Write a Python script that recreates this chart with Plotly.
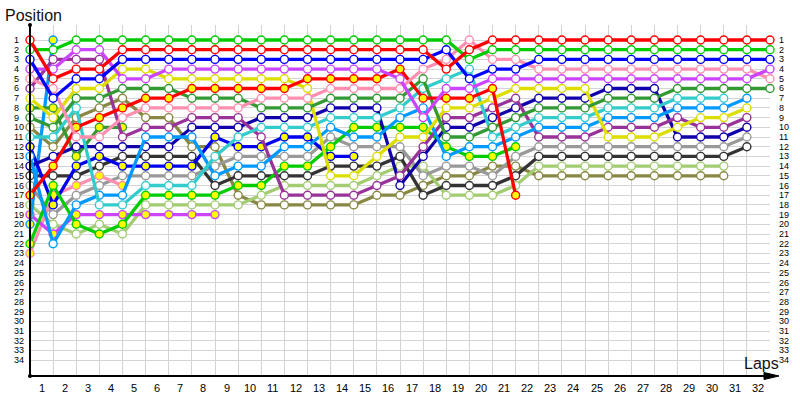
import plotly.graph_objects as go

N = None
laps = list(range(33))
lap_labels = [str(i) for i in range(1, 33)]
pos_labels = [str(i) for i in range(1, 35)]

# positions per lap (lap 0 = grid)
red      = [1,5,4,4,2,2,2,2,2,2,2,2,2,2,2,2,2,2,4,2,1,1,1,1,1,1,1,1,1,1,1,1,1]
green    = [2,2,1,1,1,1,1,1,1,1,1,1,1,1,1,1,1,1,1,3,2,2,2,2,2,2,2,2,2,2,2,2,2]
blue     = [3,7,5,5,3,3,3,3,3,3,3,3,3,3,3,3,3,3,2,5,4,4,3,3,3,3,3,3,3,3,3,3,3]
violet   = [4,4,2,2,5,5,4,4,4,4,4,4,4,4,4,4,5,9,6,6,5,5,5,5,5,5,5,5,5,5,5,5,4]
pink     = [5,6,11,11,9,8,8,8,8,8,7,7,7,6,6,6,6,4,3,1,3,3,4,4,4,4,4,4,4,4,4,4,5]
purple   = [6,3,3,3,11,10,10,9,9,9,11,17,17,17,17,16,15,12,9,9,8,7,11,11,11,10,10,10,9,10,10,9,N]
yellow   = [7,9,6,6,4,4,5,5,5,5,5,5,6,15,15,13,11,11,8,8,7,6,6,6,6,11,11,11,10,9,9,8,N]
dkgreen  = [9,10,7,7,6,6,6,7,7,7,8,8,8,7,7,7,7,5,11,11,10,9,8,8,8,7,7,7,6,6,6,6,6]
olive    = [10,12,9,8,7,9,9,12,12,17,18,18,18,18,18,17,17,16,15,15,14,14,15,15,15,15,15,15,15,15,15,N,N]
cyan     = [11,11,8,18,18,16,16,16,13,11,10,10,10,9,9,9,8,6,5,4,11,10,9,9,9,8,8,8,7,7,7,N,N]
ltblue   = [13,22,18,17,17,11,11,11,15,14,14,12,12,10,11,11,9,8,13,12,12,11,10,10,10,9,9,9,8,8,8,7,N]
navy     = [14,13,12,12,12,12,12,10,10,10,9,9,9,8,8,8,16,13,10,10,9,8,7,7,7,6,6,6,11,11,11,10,N]
black    = [15,15,15,14,13,13,13,13,16,15,15,15,15,14,14,14,13,17,16,16,16,15,13,13,13,13,13,13,13,13,13,12,N]
gray     = [16,19,17,16,15,15,15,15,14,13,13,13,13,11,12,12,12,15,14,14,15,13,12,12,12,12,12,12,12,12,12,11,N]
ltgreen  = [18,20,21,20,21,18,18,18,18,18,17,16,16,16,16,15,14,14,17,17,17,16,14,14,14,14,14,14,14,14,14,N,N]
y_dkgreen = [8,8,13,10,10]
y_blue    = [12,18,14,13,14,14,14,14,11,12,12,11,11,13,13]
y_red     = [17,14,10,9,8,7,7,6,6,6,6,6,5,5,5,5,4,7,7,7,6,17]
y_violet  = [19,21,19,19,19,19,19,19,19]
y_ltblue  = [20,1]
y_green   = [22,16,20,21,20,17,17,17,17,16,16,14,14,12,10,10,10,10,12,13,13,12]
y_pink    = [23,17,16,15,16]

series = [
    (olive, "#888844", "white"), (ltgreen, "#a3cc73", "white"), (black, "#333333", "white"),
    (gray, "#999999", "white"), (y_pink, "#ff8fb0", "#ffff00"), (y_violet, "#cc44ff", "#ffff00"),
    (y_ltblue, "#0099ff", "#ffff00"), (y_dkgreen, "#339933", "#ffff00"), (y_blue, "#0000ee", "#ffff00"),
    (y_green, "#00cc00", "#ffff00"), (navy, "#1100aa", "white"), (purple, "#993399", "white"),
    (ltblue, "#0099ff", "white"), (cyan, "#33cccc", "white"), (yellow, "#dddd00", "white"),
    (dkgreen, "#339933", "white"), (y_red, "#ff0000", "#ffff00"), (pink, "#ff8fb0", "white"),
    (violet, "#cc44ff", "white"), (blue, "#0000ff", "white"), (green, "#00cc00", "white"),
    (red, "#ff0000", "white"),
]

fig = go.Figure()
for vals, col, fill in series:
    xs = [laps[i] for i, v in enumerate(vals) if v is not None]
    ys = [v for v in vals if v is not None]
    fig.add_trace(go.Scatter(
        x=xs, y=ys, mode="lines+markers", showlegend=False, hoverinfo="skip",
        line=dict(color=col, width=3.3),
        marker=dict(symbol="circle", size=8, color=fill, line=dict(color=col, width=1.4)),
        cliponaxis=False,
    ))

L, R, T, B = 30, 770, 25, 376
W, H = R - L, B - T
def px(x):
    return (x - L) / W
def py(y):
    return (B - y) / H
pos_top = 1 + (T - 40) / 9.7
pos_bot = 1 + (B - 40) / 9.7

ann = []
for i, t in enumerate(pos_labels):
    p = i + 1
    yy = 40 + 9.7 * (p - 1)
    ann.append(dict(x=px(11.5), y=py(yy), xref="paper", yref="paper", text=t, showarrow=False,
                    xanchor="left", yanchor="middle", font=dict(family="Liberation Sans", size=9, color="#000")))
    ann.append(dict(x=px(777), y=py(yy), xref="paper", yref="paper", text=t, showarrow=False,
                    xanchor="left", yanchor="middle", font=dict(family="Liberation Sans", size=9, color="#000")))
for i, t in enumerate(lap_labels):
    xx = L + 23.125 * (i + 0.5)
    ann.append(dict(x=px(xx), y=py(388), xref="paper", yref="paper", text=t, showarrow=False,
                    xanchor="center", yanchor="middle", font=dict(family="Liberation Sans", size=11, color="#000")))
ann.append(dict(x=px(3), y=py(15), xref="paper", yref="paper", text="Position", showarrow=False,
                xanchor="left", yanchor="middle", font=dict(family="Liberation Sans", size=16, color="#111")))
ann.append(dict(x=px(742), y=py(363), xref="paper", yref="paper", text="Laps", showarrow=False,
                xanchor="left", yanchor="middle", font=dict(family="Liberation Sans", size=16, color="#111")))

shapes = [
    dict(type="line", xref="paper", yref="paper", x0=px(30), x1=px(30), y0=py(376), y1=py(25),
         line=dict(color="#000", width=2), layer="above"),
    dict(type="line", xref="paper", yref="paper", x0=px(30), x1=px(772), y0=py(376), y1=py(376),
         line=dict(color="#000", width=2), layer="above"),
    dict(type="path", xref="paper", yref="paper",
         path=f"M {px(764)} {py(372.5)} L {px(779)} {py(376)} L {px(764)} {py(379.5)} Z",
         fillcolor="#000", line=dict(color="#000", width=1), layer="above"),
    dict(type="circle", xref="paper", yref="paper", x0=px(28), x1=px(32), y0=py(23), y1=py(27),
         fillcolor="#000", line=dict(color="#000", width=0), layer="above"),
    dict(type="circle", xref="paper", yref="paper", x0=px(28), x1=px(32), y0=py(374), y1=py(378),
         fillcolor="#000", line=dict(color="#000", width=0), layer="above"),
]

fig.update_layout(
    width=800, height=400, margin=dict(l=L, r=800 - R, t=T, b=400 - B),
    paper_bgcolor="white", plot_bgcolor="white",
    xaxis=dict(range=[0, 32], tickvals=list(range(1, 33)), showticklabels=False,
               showgrid=True, gridcolor="#d3d3d3", gridwidth=1, zeroline=False, showline=False, ticks=""),
    yaxis=dict(range=[pos_bot, pos_top], tickvals=list(range(1, 35)), showticklabels=False,
               showgrid=True, gridcolor="#d3d3d3", gridwidth=1, zeroline=False, showline=False, ticks=""),
    annotations=ann, shapes=shapes,
)
fig.write_html("out.html", config={"displayModeBar": False, "staticPlot": True},
               post_script="document.body.style.margin='0';document.body.style.overflow='hidden';")
